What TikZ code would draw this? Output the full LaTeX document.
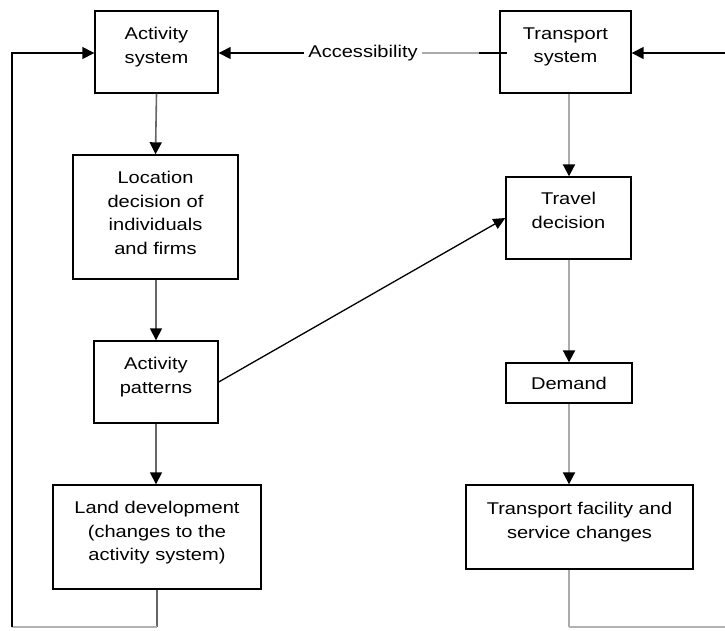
\documentclass[tikz,border=0pt]{standalone}
\usepackage{fontspec}
\setmainfont{Liberation Sans}[FakeStretch=1.18]
\usetikzlibrary{arrows.meta}
\newcommand\fs{\fontsize{17}{23.5}\selectfont}
\tikzset{
  box/.style={draw=black, line width=1.4pt, inner sep=0pt, fill=white},
  lbl/.style={font=\fs, align=center, anchor=north, inner sep=0pt},
  tip/.style={-{Triangle[width=12pt,length=12pt,color=black]}},
  leftline/.style={draw=black!60, line width=1.6pt},
  rightline/.style={draw=black!33, line width=2pt},
  blackline/.style={draw=black, line width=1.5pt},
}
\begin{document}
\begin{tikzpicture}[x=1pt,y=-1pt]
\useasboundingbox (0,0) rectangle (725,630);
% boxes
\node[box, minimum width=123pt, minimum height=82pt] (asys) at (156.5,52) {};
\node[lbl] (asysT) at ([yshift=-17pt]asys.north) {Activity\\system};
\node[box, minimum width=131pt, minimum height=82pt] (tsys) at (565.5,52) {};
\node[lbl] (tsysT) at ([yshift=-17pt]tsys.north) {Transport\\system};
\node[box, minimum width=165pt, minimum height=124pt] (loc) at (155.5,217) {};
\node[lbl] (locT) at ([yshift=-17pt]loc.north) {Location\\decision of\\individuals\\and firms};
\node[box, minimum width=124pt, minimum height=82pt] (apat) at (156,382) {};
\node[lbl] (apatT) at ([yshift=-17pt]apat.north) {Activity\\patterns};
\node[box, minimum width=208pt, minimum height=104pt] (land) at (157,537) {};
\node[lbl] (landT) at ([yshift=-17pt]land.north) {Land development\\(changes to the\\activity system)};
\node[box, minimum width=125pt, minimum height=82pt] (trav) at (568.5,218) {};
\node[lbl] (travT) at ([yshift=-16pt]trav.north) {Travel\\decision};
\node[box, minimum width=126pt, minimum height=40pt, font=\fs] (dem) at (569,383) {Demand};
\node[box, minimum width=227pt, minimum height=84pt] (tfac) at (579.5,527) {};
\node[lbl] (tfacT) at ([yshift=-18pt]tfac.north) {Transport facility and\\service changes};
% accessibility
\node[font=\fs, inner xsep=4pt, inner ysep=0pt] (acc) at (363,53) {Accessibility};
\draw[blackline, tip] (acc.west) -- (acc.west -| asys.east);
\draw[rightline] (acc.east) -- (acc.east -| tsys.west);
\draw[blackline] ([xshift=-20pt]acc.east -| tsys.west) -- ([xshift=8pt]acc.east -| tsys.west);
% left column
\draw[leftline, tip] (asys.south) -- (loc.north);
\draw[leftline, tip] (loc.south -| apat) -- (apat.north);
\draw[leftline, tip] (apat.south) -- (land.north -| apat);
% right column
\coordinate (cx) at (569,0);
\draw[rightline, tip] (tsys.south -| cx) -- (trav.north -| cx);
\draw[rightline, tip] (trav.south -| cx) -- (dem.north -| cx);
\draw[rightline, tip] (dem.south -| cx) -- (tfac.north -| cx);
% diagonal
\draw[blackline, line width=1.3pt, -{Triangle[width=11pt,length=12pt]}] (apat.east) -- (trav.west);
% feedback loops
\coordinate (lb) at (12,627);
\coordinate (lt) at (12,53);
\draw[leftline] (land.south) -- (land.south |- lb);
\draw[draw=black!30, line width=1.5pt] (land.south |- lb) -- (lb);
\draw[blackline, tip] (lb) -- (lt) -- (lt -| asys.west);
\coordinate (rb) at (745,627);
\coordinate (rt) at (745,53);
\draw[rightline] (tfac.south -| cx) -- (cx |- rb);
\draw[draw=black!30, line width=1.5pt] (cx |- rb) -- (rb);
\draw[blackline, tip] (rb) -- (rt) -- (rt -| tsys.east);
\end{tikzpicture}
\end{document}
